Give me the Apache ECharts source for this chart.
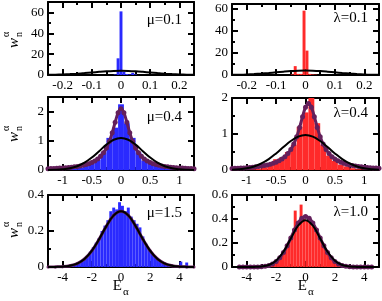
<!DOCTYPE html>
<html><head><meta charset="utf-8">
<script src="https://cdn.jsdelivr.net/npm/echarts@6/dist/echarts.min.js"></script>
<style>html,body{margin:0;padding:0;background:#fff}#c{width:382px;height:301px}</style>
</head><body><div id="c"></div>
<script>
// ---------- DATA ----------
// Top row (mu=0.1 / lambda=0.1), bin width 0.01
const tlHistX = [-0.04,-0.03,-0.02,-0.01,0,0.01,0.02,0.03,0.04,0.05];
const tlHistY = [0,0,0.5,16,61,3,1,0.5,2,0.5];
const trHistX = [-0.045,-0.035,-0.025,-0.015,-0.005,0.005,0.015,0.025,0.035];
const trHistY = [0.5,8,1,1,58,22,1,0.5,0.3];
const topCurveX = [-0.25,-0.225,-0.2,-0.175,-0.15,-0.125,-0.1,-0.075,-0.05,-0.025,0,0.025,0.05,0.075,0.1,0.125,0.15,0.175,0.2,0.225,0.25];
const tlCurveY = [0.18,0.32,0.54,0.87,1.30,1.83,2.43,3.02,3.53,3.88,4.0,3.88,3.53,3.02,2.43,1.83,1.30,0.87,0.54,0.32,0.18];
const trCurveY = [0.18,0.32,0.54,0.87,1.30,1.83,2.43,3.02,3.53,3.88,4.0,3.88,3.53,3.02,2.43,1.83,1.30,0.87,0.54,0.32,0.18];

// Middle row (mu=0.4 / lambda=0.4), bin width 0.1
const midHistX = [-1.2,-1.1,-1.0,-0.9,-0.8,-0.7,-0.6,-0.5,-0.4,-0.3,-0.2,-0.1,0,0.1,0.2,0.3,0.4,0.5,0.6,0.7,0.8,0.9,1.0,1.1,1.2];
const mlHistY = [0,0,0.01,0.02,0.04,0.08,0.15,0.28,0.35,0.6,1.1,1.45,2.25,1.6,1.1,0.6,0.32,0.25,0.15,0.1,0.05,0.03,0.01,0,0];
const mrHistY = [0,0,0.01,0.02,0.04,0.08,0.15,0.3,0.35,0.5,0.7,1.2,1.6,2.0,1.3,0.7,0.4,0.25,0.15,0.1,0.05,0.02,0.01,0,0];
const midCurveX = [-1.25,-1.125,-1,-0.875,-0.75,-0.625,-0.5,-0.375,-0.25,-0.125,0,0.125,0.25,0.375,0.5,0.625,0.75,0.875,1,1.125,1.25];
const mlCurveY = [0.003,0.009,0.025,0.060,0.130,0.250,0.426,0.645,0.868,1.036,1.1,1.036,0.868,0.645,0.426,0.250,0.130,0.060,0.025,0.009,0.003];
const mrCurveY = [0.009,0.022,0.049,0.099,0.182,0.303,0.461,0.638,0.805,0.926,0.97,0.926,0.805,0.638,0.461,0.303,0.182,0.099,0.049,0.022,0.009];
const midDotsX = [-1.25,-1.2,-1.15,-1.1,-1.05,-1,-0.95,-0.9,-0.85,-0.8,-0.75,-0.7,-0.65,-0.6,-0.55,-0.5,-0.45,-0.4,-0.35,-0.3,-0.25,-0.2,-0.15,-0.1,-0.05,0,0.05,0.1,0.15,0.2,0.25,0.3,0.35,0.4,0.45,0.5,0.55,0.6,0.65,0.7,0.75,0.8,0.85,0.9,0.95,1,1.05,1.1,1.15,1.2,1.25];
const mlDotsY = [0.046,0.050,0.054,0.059,0.065,0.071,0.078,0.087,0.097,0.109,0.123,0.140,0.161,0.186,0.218,0.258,0.309,0.377,0.467,0.588,0.754,0.98,1.278,1.633,1.96,2.10,1.96,1.633,1.278,0.98,0.754,0.588,0.467,0.377,0.309,0.258,0.218,0.186,0.161,0.140,0.123,0.109,0.097,0.087,0.078,0.071,0.065,0.059,0.054,0.050,0.046];
const mrDotsY = [0.043,0.046,0.050,0.054,0.059,0.065,0.071,0.079,0.087,0.097,0.109,0.123,0.140,0.160,0.185,0.216,0.255,0.305,0.37,0.455,0.569,0.722,0.925,1.184,1.48,1.741,1.85,1.741,1.48,1.184,0.925,0.722,0.569,0.455,0.37,0.305,0.255,0.216,0.185,0.160,0.140,0.123,0.109,0.097,0.087,0.079,0.071,0.065,0.059,0.054,0.050];

// Bottom row (mu=1.5 / lambda=1.0), bin width 0.2
const botHistX = [-4.9,-4.7,-4.5,-4.3,-4.1,-3.9,-3.7,-3.5,-3.3,-3.1,-2.9,-2.7,-2.5,-2.3,-2.1,-1.9,-1.7,-1.5,-1.3,-1.1,-0.9,-0.7,-0.5,-0.3,-0.1,0.1,0.3,0.5,0.7,0.9,1.1,1.3,1.5,1.7,1.9,2.1,2.3,2.5,2.7,2.9,3.1,3.3,3.5,3.7,3.9,4.1,4.3,4.5,4.7,4.9];
const blHistY = [0,0,0.002,0.003,0.002,0.004,0.006,0.01,0.012,0.02,0.025,0.035,0.05,0.065,0.085,0.11,0.135,0.16,0.2,0.23,0.26,0.31,0.33,0.32,0.36,0.34,0.31,0.33,0.28,0.26,0.24,0.22,0.17,0.13,0.1,0.08,0.06,0.05,0.035,0.025,0.02,0.015,0.01,0.008,0.005,0.03,0.004,0.025,0.002,0];
const brHistY = [0,0,0,0,0,0,0,0,0,0.002,0.004,0.008,0.015,0.03,0.045,0.065,0.09,0.125,0.17,0.21,0.26,0.47,0.34,0.52,0.40,0.39,0.37,0.34,0.30,0.26,0.21,0.165,0.125,0.09,0.065,0.04,0.025,0.015,0.008,0.004,0.002,0,0,0,0,0,0,0,0,0];
const botCurveX = [-5,-4.5,-4,-3.5,-3,-2.5,-2,-1.5,-1,-0.5,0,0.5,1,1.5,2,2.5,3,3.5,4,4.5,5];
const blCurveY = [0.0001,0.0005,0.002,0.007,0.019,0.045,0.090,0.154,0.227,0.287,0.310,0.287,0.227,0.154,0.090,0.045,0.019,0.007,0.002,0.0005,0.0001];
const brCurveY = [0,0,0.0001,0.0009,0.0043,0.017,0.053,0.127,0.237,0.344,0.39,0.344,0.237,0.127,0.053,0.017,0.0043,0.0009,0.0001,0,0];
const brDotsX = [-4.5,-4.25,-4,-3.75,-3.5,-3.25,-3,-2.75,-2.5,-2.25,-2,-1.75,-1.5,-1.25,-1,-0.75,-0.5,-0.25,0,0.25,0.5,0.75,1,1.25,1.5,1.75,2,2.25,2.5,2.75,3,3.25,3.5,3.75,4,4.25,4.5];
const brDotsY = [0,0,0,0,0.0005,0.001,0.003,0.006,0.013,0.025,0.046,0.077,0.121,0.177,0.241,0.308,0.366,0.406,0.42,0.406,0.366,0.308,0.241,0.177,0.121,0.077,0.046,0.025,0.013,0.006,0.003,0.001,0.0005,0,0,0,0];

// Axis ticks
const xTopMajor = [-0.2,-0.1,0,0.1,0.2], xTopMinor = [-0.15,-0.05,0.05,0.15];
const xMidMajor = [-1,-0.5,0,0.5,1], xMidMinor = [-0.75,-0.25,0.25,0.75];
const xBotMajor = [-4,-2,0,2,4], xBotMinor = [-3,-1,1,3];
const yTopMajor = [0,20,40,60], yTopMinor = [10,30,50];
const yMidMajor = [0,1,2], yMidMinor = [0.5,1.5];
const yBLMajor = [0,0.2,0.4], yBLMinor = [0.1,0.3];
const yBRMajor = [0,0.2,0.4,0.6], yBRMinor = [0.1,0.3,0.5];
const panelLabels = ['μ=0.1','λ=0.1','μ=0.4','λ=0.4','μ=1.5','λ=1.0'];

// ---------- CHART ----------
const FONT = '"Liberation Serif","Times New Roman",serif';
const BLUE = '#2a2aff', RED = '#ff2a2a', PURPLE = '#64205c';
const grids = [
  {left:48, top:2, width:146, height:73},
  {left:232, top:4, width:147, height:71},
  {left:48, top:97, width:146, height:73},
  {left:232, top:98, width:147, height:72},
  {left:48, top:195, width:146, height:72},
  {left:232, top:195, width:147, height:72}
];
const panels = [
  {xr:[-0.25,0.25], yr:[0,70], xM:xTopMajor, xm:xTopMinor, yM:yTopMajor, ym:yTopMinor},
  {xr:[-0.25,0.25], yr:[0,64], xM:xTopMajor, xm:xTopMinor, yM:yTopMajor, ym:yTopMinor},
  {xr:[-1.25,1.25], yr:[0,2.5], xM:xMidMajor, xm:xMidMinor, yM:yMidMajor, ym:yMidMinor},
  {xr:[-1.25,1.25], yr:[0,2], xM:xMidMajor, xm:xMidMinor, yM:yMidMajor, ym:yMidMinor},
  {xr:[-5,5], yr:[0,0.4], xM:xBotMajor, xm:xBotMinor, yM:yBLMajor, ym:yBLMinor},
  {xr:[-5,5], yr:[0,0.6], xM:xBotMajor, xm:xBotMinor, yM:yBRMajor, ym:yBRMinor}
];
const xAxes = [], yAxes = [];
const mainX = [], mainY = [];
function mkAxis(gi, pos, range, vals, major, label, line) {
  return {
    type:'value', gridIndex:gi, position:pos, min:range[0], max:range[1],
    axisLine:{show:line, onZero:false, lineStyle:{color:'#000', width:2}},
    axisTick:{show:true, inside:true, length: major?6:3, lineStyle:{color:'#000', width:2}, customValues: vals},
    axisLabel:{show:label, customValues: vals, color:'#000', fontFamily:FONT, fontSize:13, margin:4,
      formatter: v => String(v)},
    splitLine:{show:false}, minorTick:{show:false}
  };
}
panels.forEach((p, gi) => {
  mainX.push(xAxes.length);
  xAxes.push(mkAxis(gi,'bottom',p.xr,p.xM,true,true,true));
  xAxes.push(mkAxis(gi,'bottom',p.xr,p.xm,false,false,false));
  xAxes.push(mkAxis(gi,'top',p.xr,p.xM,true,false,true));
  xAxes.push(mkAxis(gi,'top',p.xr,p.xm,false,false,false));
  mainY.push(yAxes.length);
  yAxes.push(mkAxis(gi,'left',p.yr,p.yM,true,true,true));
  yAxes.push(mkAxis(gi,'left',p.yr,p.ym,false,false,false));
  yAxes.push(mkAxis(gi,'right',p.yr,p.yM,true,false,true));
  yAxes.push(mkAxis(gi,'right',p.yr,p.ym,false,false,false));
});

function hist(gi, xs, ys, w, color) {
  return {
    type:'custom', xAxisIndex:mainX[gi], yAxisIndex:mainY[gi], clip:true, silent:true, z:1,
    data: xs.map((x,i)=>[x, ys[i]]),
    renderItem: (params, api) => {
      const x = api.value(0), y = api.value(1);
      const a = api.coord([x - w/2, y]), b = api.coord([x + w/2, 0]);
      return {type:'rect', shape:{x:a[0], y:a[1], width:b[0]-a[0], height:b[1]-a[1]}, style:{fill:color}};
    }
  };
}
function curve(gi, xs, ys) {
  return {type:'line', xAxisIndex:mainX[gi], yAxisIndex:mainY[gi], data: xs.map((x,i)=>[x, ys[i]]),
    smooth:0.4, showSymbol:false, symbol:'none', silent:true, z:4, clip:true,
    lineStyle:{color:'#000', width:2}};
}
function dots(gi, xs, ys, size) {
  return {type:'line', xAxisIndex:mainX[gi], yAxisIndex:mainY[gi], data: xs.map((x,i)=>[x, ys[i]]),
    smooth:0.4, symbol:'circle', symbolSize:size, showSymbol:true, silent:true, z:3, clip:true,
    itemStyle:{color:PURPLE, borderWidth:0}, lineStyle:{color:PURPLE, width:3}};
}
const series = [
  hist(0, tlHistX, tlHistY, 0.01, BLUE), curve(0, topCurveX, tlCurveY),
  hist(1, trHistX, trHistY, 0.01, RED), curve(1, topCurveX, trCurveY),
  hist(2, midHistX, mlHistY, 0.1, BLUE), dots(2, midDotsX, mlDotsY, 5), curve(2, midCurveX, mlCurveY),
  hist(3, midHistX, mrHistY, 0.1, RED), dots(3, midDotsX, mrDotsY, 5), curve(3, midCurveX, mrCurveY),
  hist(4, botHistX, blHistY, 0.2, BLUE), dots(4, botCurveX, blCurveY, 3), curve(4, botCurveX, blCurveY),
  hist(5, botHistX, brHistY, 0.2, RED), dots(5, brDotsX, brDotsY, 5), curve(5, botCurveX, brCurveY)
];

const graphics = [];
const labelPos = [[182,20],[368,18],[182,117],[368,113],[182,213],[368,212]];
panelLabels.forEach((t,i) => graphics.push({type:'text', x:labelPos[i][0], y:labelPos[i][1],
  style:{text:t, font:'15px '+FONT, fill:'#000', textAlign:'right', textVerticalAlign:'middle'}}));
[[122,294],[307,294]].forEach(p => {
  graphics.push({type:'text', x:p[0], y:p[1], style:{text:'E', font:'15px '+FONT, fill:'#000', textAlign:'right', textVerticalAlign:'bottom'}});
  graphics.push({type:'text', x:p[0]+1, y:p[1]+4, style:{text:'α', font:'11px '+FONT, fill:'#000', textAlign:'left', textVerticalAlign:'bottom'}});
});
[38,132,228].forEach(cy => {
  graphics.push({type:'group', x:14, y:cy, rotation:Math.PI/2, children:[
    {type:'text', x:0, y:0, style:{text:'w', font:'italic 15px '+FONT, fill:'#000', textAlign:'right', textVerticalAlign:'middle'}},
    {type:'text', x:1, y:5, style:{text:'n', font:'10px '+FONT, fill:'#000', textAlign:'left', textVerticalAlign:'middle'}},
    {type:'text', x:1, y:-8, style:{text:'α', font:'10px '+FONT, fill:'#000', textAlign:'left', textVerticalAlign:'middle'}}
  ]});
});

const chart = echarts.init(document.getElementById('c'), null, {renderer:'canvas'});
chart.setOption({animation:false, backgroundColor:'#fff', grid:grids, xAxis:xAxes, yAxis:yAxes, series:series, graphic:graphics});
</script></body></html>
